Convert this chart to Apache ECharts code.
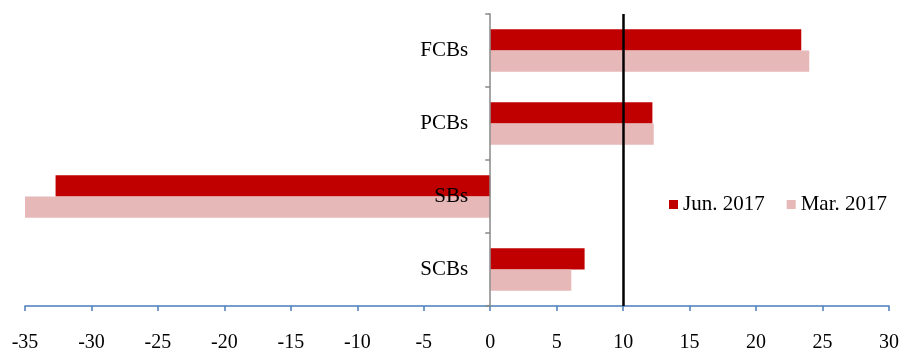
<!DOCTYPE html>
<html><head><meta charset="utf-8">
<script src="https://cdn.jsdelivr.net/npm/echarts@6/dist/echarts.min.js"></script>
<style>html,body{margin:0;padding:0;background:#fff}#c{width:901px;height:353px}</style>
</head><body><div id="c"></div>
<script>
const categories = ['SCBs', 'SBs', 'PCBs', 'FCBs'];
const jun2017 = [7.1, -32.7, 12.2, 23.4];
const mar2017 = [6.1, -35.0, 12.3, 24.0];
const xTicks = { min: -35, max: 30, interval: 5 };
const refLine = 10;

const chart = echarts.init(document.getElementById('c'));
const font = 'Liberation Serif';
const gridLeft = 25;
chart.setOption({
  animation: false,
  grid: { left: gridLeft, right: 12, top: 14, bottom: 47, containLabel: false, outerBoundsMode: 'none' },
  legend: {
    data: ['Jun. 2017', 'Mar. 2017'],
    left: 669, top: 194, itemWidth: 9, itemHeight: 9, itemGap: 22,
    icon: 'rect', padding: 0,
    textStyle: { fontFamily: font, fontSize: 21, color: '#000' }
  },
  xAxis: {
    type: 'value', min: xTicks.min, max: xTicks.max, interval: xTicks.interval,
    splitLine: { show: false },
    axisLine: { show: true, lineStyle: { color: '#4a7ebb', width: 1.5 } },
    axisTick: { show: true, length: 5, lineStyle: { color: '#4a7ebb', width: 1.5 } },
    axisLabel: { fontFamily: font, fontSize: 20, color: '#000', margin: 27 }
  },
  yAxis: {
    type: 'category', data: categories, z: 5,
    axisLine: { show: true, onZero: false, lineStyle: { color: '#888', width: 1.5 } },
    axisTick: { show: true, length: 5, lineStyle: { color: '#888', width: 1.5 } },
    axisLabel: { fontFamily: font, fontSize: 21, color: '#000', margin: 22 }
  },
  series: [
    {
      name: 'Jun. 2017', type: 'bar', data: jun2017, barGap: '0%', barCategoryGap: '42%',
      itemStyle: { color: '#C00000' },
      markLine: {
        symbol: 'none', silent: true, label: { show: false },
        lineStyle: { color: '#000', width: 2.5, type: 'solid' },
        data: [{ xAxis: refLine }]
      }
    },
    {
      name: 'Mar. 2017', type: 'bar', data: mar2017, barGap: '0%', barCategoryGap: '42%',
      itemStyle: { color: '#E6B8B7' }
    }
  ]
});
const px0 = chart.convertToPixel({ xAxisIndex: 0 }, 0);
chart.setOption({ yAxis: { offset: gridLeft - px0 } });
</script></body></html>
